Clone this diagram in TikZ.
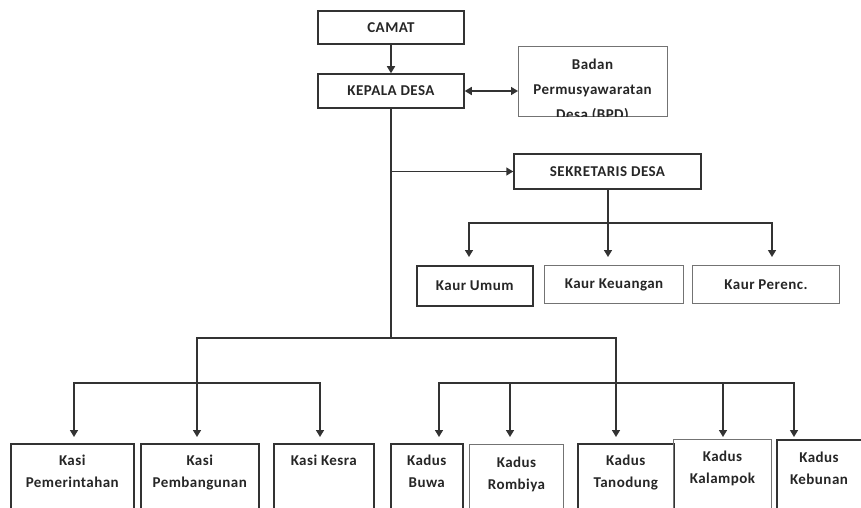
\documentclass[tikz,border=0pt]{standalone}
\usepackage{fontspec}
\setmainfont{Carlito}[LetterSpace=3]
\usetikzlibrary{arrows.meta,calc}
\begin{document}
\begin{tikzpicture}[x=1pt,y=-1pt,
  box/.style={draw=black!80,line width=1.5pt,inner sep=0pt,font=\bfseries\fontsize{15}{22}\selectfont,text=black!85},
  lbox/.style={box,draw=black!55,line width=1pt},
  lbl/.style={inner sep=0pt,align=center,font=\bfseries\fontsize{15}{22}\selectfont,text=black!85},
  conn/.style={draw=black!80,line width=1.5pt,line join=miter},
  arr/.style={conn,-{Triangle[width=8pt,length=7pt]}},
  darr/.style={conn,{Triangle[width=8pt,length=7pt]}-{Triangle[width=8pt,length=7pt]}},
]
\useasboundingbox (0,0) rectangle (861,508);
\begin{scope}
\clip (0,0) rectangle (861,508);
% top
\node[box,minimum width=146pt,minimum height=33pt] (camat) at (391,27.5) {CAMAT};
\node[box,minimum width=146pt,minimum height=34pt] (kepala) at (391,91) {KEPALA DESA};
\node[lbox,minimum width=149pt,minimum height=70pt,anchor=north west] (bpd) at (518,46) {};
\begin{scope}
\clip (bpd.north west) rectangle (bpd.south east);
\node[lbl,anchor=north,font=\bfseries\fontsize{15}{25}\selectfont] (bpdt) at (592.5,58.5) {Badan\\Permusyawaratan\\Desa (BPD)};
\end{scope}
\node[box,minimum width=187pt,minimum height=35pt] (sek) at (607.5,171.5) {SEKRETARIS DESA};
% kaur
\node[box,minimum width=116pt,minimum height=40pt,anchor=north west] (kumum) at (416,265) {Kaur Umum};
\node[lbox,minimum width=139pt,minimum height=38pt,anchor=north west] (kkeu) at (544,265) {Kaur Keuangan};
\node[lbox,minimum width=147pt,minimum height=38pt,anchor=north west] (kper) at (692,265) {Kaur Perenc.};
% bottom boxes
\node[box,minimum width=123pt,minimum height=90pt,anchor=north west] (kpem) at (10,443) {};
\node[box,minimum width=118pt,minimum height=90pt,anchor=north west] (kpb) at (140,443) {};
\node[box,minimum width=100pt,minimum height=90pt,anchor=north west] (kks) at (273,443) {};
\node[box,minimum width=72pt,minimum height=90pt,anchor=north west] (kbuwa) at (390,443) {};
\node[lbox,minimum width=94pt,minimum height=90pt,anchor=north west] (krom) at (469,444) {};
\node[box,minimum width=96pt,minimum height=90pt,anchor=north west] (ktan) at (577,443) {};
\node[lbox,minimum width=98pt,minimum height=90pt,anchor=north west] (kkal) at (673,439) {};
\node[box,minimum width=100pt,minimum height=90pt,anchor=north west] (kkeb) at (776,439) {};
\node[lbl,anchor=north] (tpem) at (kpem.north |- 0,455) {Kasi\\Pemerintahan};
\node[lbl,anchor=north] (tpb) at (kpb.north |- 0,455) {Kasi\\Pembangunan};
\node[lbl,anchor=north] (tks) at (kks.north |- 0,455) {Kasi Kesra};
\node[lbl,anchor=north] (tbuwa) at (kbuwa.north |- 0,455) {Kadus\\Buwa};
\node[lbl,anchor=north] (trom) at (krom.north |- 0,457) {Kadus\\Rombiya};
\node[lbl,anchor=north] (ttan) at (ktan.north |- 0,455) {Kadus\\Tanodung};
\node[lbl,anchor=north] (tkal) at (kkal.north |- 0,451) {Kadus\\Kalampok};
\node[lbl,anchor=north] (tkeb) at (819,452) {Kadus\\Kebunan};
% connectors top
\draw[arr] (camat.south) -- (kepala.north);
\draw[darr] (kepala.east) -- (kepala.east -| bpd.west);
\coordinate (j1) at (391,338);
\draw[conn] (kepala.south) -- (j1);
\draw[arr] (kepala.south |- sek.west) -- (sek.west);
% kaur
\coordinate (sb) at (608,223);
\coordinate (ku) at (469,257);
\coordinate (kk) at (608,257);
\coordinate (kp) at (772,257);
\draw[conn] (sek.south -| sb) -- (sb);
\draw[darr] (ku) -- (ku |- sb) -- (kp |- sb) -- (kp);
\draw[arr] (sb) -- (kk);
% bottom
\coordinate (a1) at (74,437);
\coordinate (a2) at (197,437);
\coordinate (a3) at (320,437);
\coordinate (a4) at (439,437);
\coordinate (a5) at (510,437);
\coordinate (a6) at (616,437);
\coordinate (a7) at (723,437);
\coordinate (a8) at (794,437);
\coordinate (b2) at (0,383);
\draw[darr] (a2) -- (a2 |- j1) -- (a6 |- j1) -- (a6);
\draw[darr] (a1) -- (a1 |- b2) -- (a3 |- b2) -- (a3);
\draw[darr] (a4) -- (a4 |- b2) -- (a8 |- b2) -- (a8);
\draw[arr] (a5 |- b2) -- (a5);
\draw[arr] (a7 |- b2) -- (a7);
\end{scope}
\end{tikzpicture}
\end{document}
